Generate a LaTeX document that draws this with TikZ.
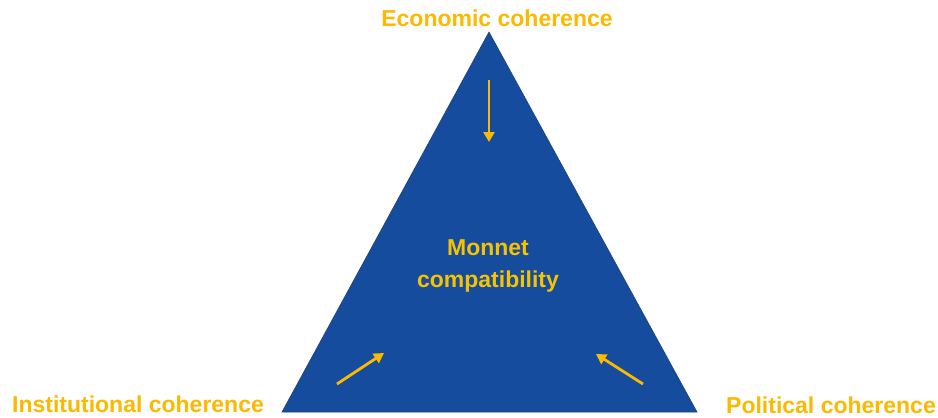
\documentclass[tikz,border=0pt]{standalone}
\usepackage{fontspec}
\setmainfont{Liberation Sans}
\usetikzlibrary{arrows.meta}
\definecolor{triblue}{HTML}{154C9E}
\definecolor{triedge}{HTML}{1F4470}
\definecolor{gold}{HTML}{FBB900}
\definecolor{mongold}{HTML}{F7C200}
\tikzset{
  lbl/.style={text=gold, font=\fontsize{23}{28}\selectfont\bfseries, inner sep=0pt},
  arr/.style={draw=gold, line width=2.8pt, -{Triangle[length=10pt,width=11pt]}}
}
\begin{document}
\begin{tikzpicture}[x=1pt,y=-1pt]
\useasboundingbox (0,0) rectangle (938,418);
\fill[white] (0,0) rectangle (938,418);
\coordinate (apex) at (489,32);
\coordinate (bl) at (282,412);
\coordinate (br) at (697,412);
\filldraw[fill=triblue, draw=triedge, line width=0.6pt] (apex) -- (bl) -- (br) -- cycle;
\node[lbl] (eco) at (497,18) {Economic coherence};
\node[lbl] (inst) at (138,404) {Institutional coherence};
\node[lbl] (pol) at (831,405) {Political coherence};
\node[lbl, text=mongold, align=center, font=\fontsize{23}{32}\selectfont\bfseries] (mon) at (488,266) {Monnet\\compatibility};
\coordinate (t1) at (489,80);
\coordinate (t2) at (489,142);
\coordinate (l1) at (337,384);
\coordinate (l2) at (384,353);
\coordinate (r1) at (643,384);
\coordinate (r2) at (596,354);
\draw[arr] (t1) -- (t2);
\draw[arr] (l1) -- (l2);
\draw[arr] (r1) -- (r2);
\end{tikzpicture}
\end{document}
